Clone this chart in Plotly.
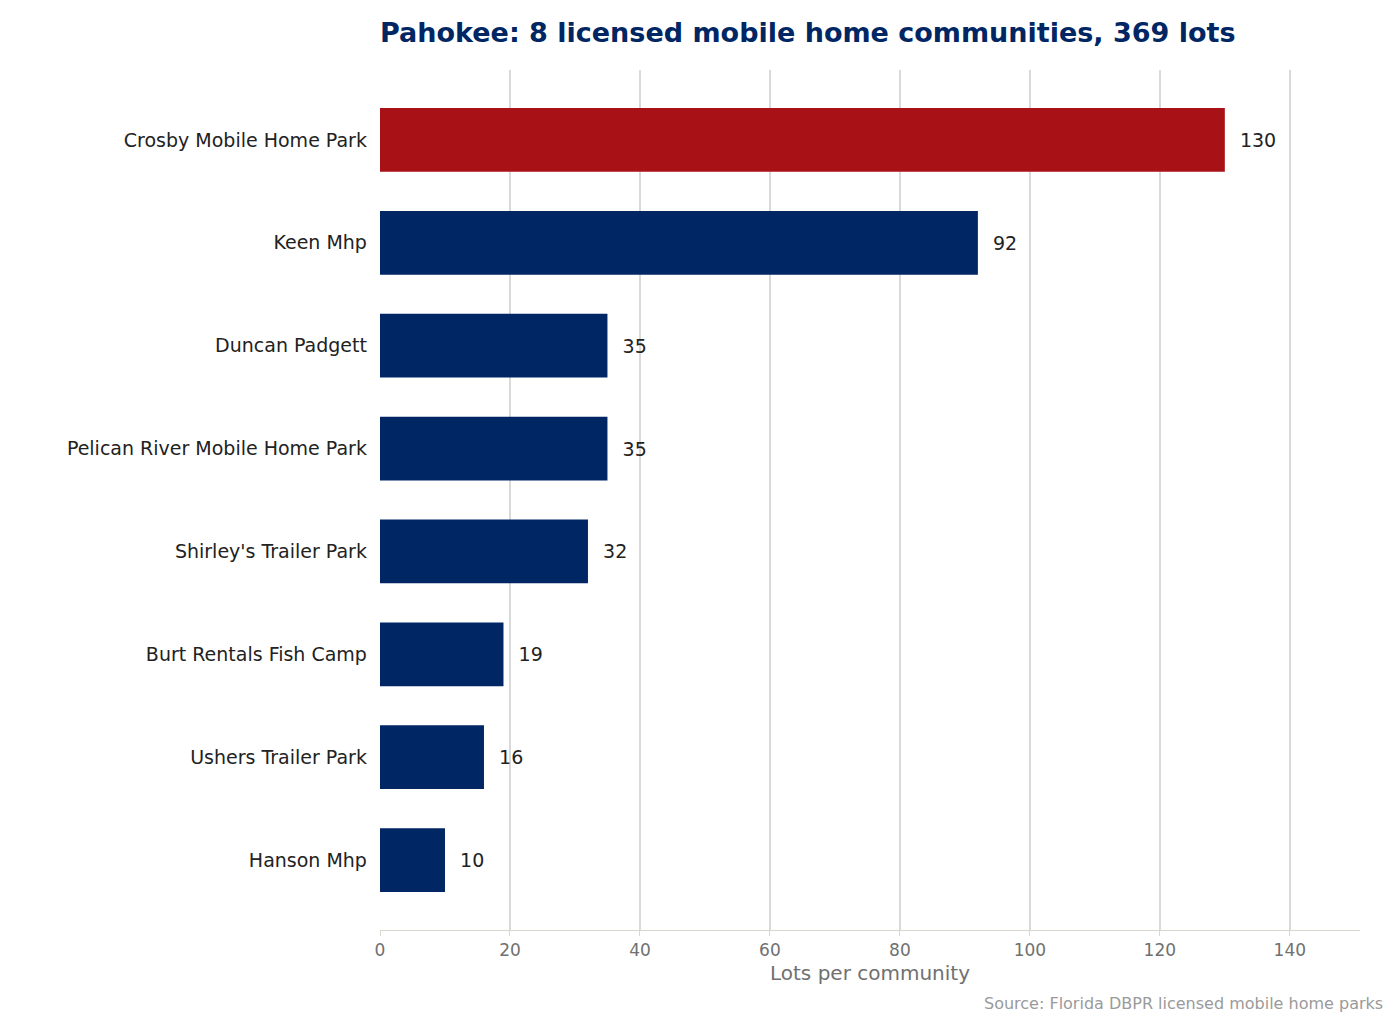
import plotly.graph_objects as go

names = ["Crosby Mobile Home Park", "Keen Mhp", "Duncan Padgett", "Pelican River Mobile Home Park",
         "Shirley's Trailer Park", "Burt Rentals Fish Camp", "Ushers Trailer Park", "Hanson Mhp"]
lots = [130, 92, 35, 35, 32, 19, 16, 10]
colors = ["#A81116"] + ["#002664"] * 7

fig = go.Figure(go.Bar(
    x=lots, y=names, orientation="h", marker=dict(color=colors, line=dict(width=0)),
    width=0.62, text=["  " + str(v) for v in lots], textposition="outside",
    textfont=dict(size=19, color="#222222"), cliponaxis=False))

fig.update_layout(
    width=1395, height=1030, plot_bgcolor="white", paper_bgcolor="white",
    font=dict(family="DejaVu Sans"),
    margin=dict(l=372, r=43, t=62, b=108),
    title=dict(text="<b>Pahokee: 8 licensed mobile home communities, 369 lots</b>",
               x=372/1395, xanchor="left", y=0.985, yanchor="top",
               font=dict(size=27, color="#002664")),
    xaxis=dict(range=[0, 150.8], tickvals=[0, 20, 40, 60, 80, 100, 120, 140],
               showgrid=True, gridcolor="#d9d9d9", gridwidth=1.5, zeroline=False,
               showline=True, linecolor="#d8d8cc", ticks="outside", tickcolor="#d8d8cc",
               tickfont=dict(size=17, color="#707070"),
               title=dict(text="Lots per community", font=dict(size=20, color="#707070"), standoff=6)),
    yaxis=dict(range=[7.68, -0.68], showline=False, ticks="",
               tickfont=dict(size=19, color="#222222"), ticksuffix="  "),
    showlegend=False,
    annotations=[dict(text="Source: Florida DBPR licensed mobile home parks", x=1, xref="paper",
                      xanchor="right", y=-0.072, yref="paper", yanchor="top", showarrow=False,
                      xshift=25, font=dict(size=16, color="#9a9a9a"))])
fig.write_html("out.html")
